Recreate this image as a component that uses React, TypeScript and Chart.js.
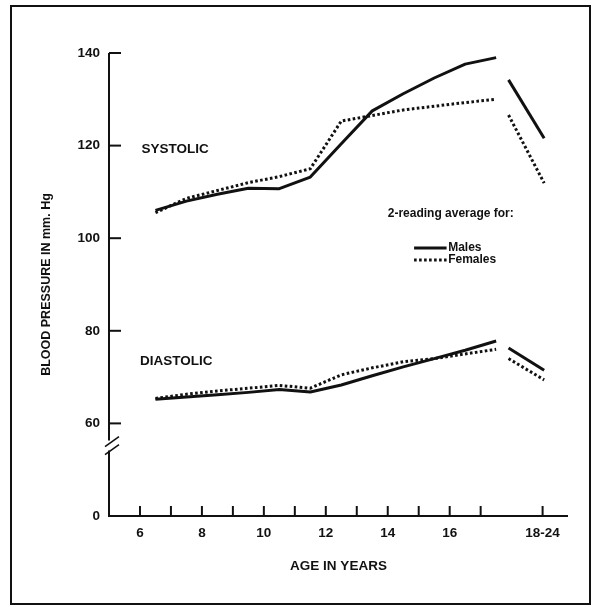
import React, { useEffect, useRef } from 'react';
import { Chart, registerables } from 'chart.js';

Chart.register(...registerables);

// Ages 6–17 plotted at mid-year
const AGES = [6.5, 7.5, 8.5, 9.5, 10.5, 11.5, 12.5, 13.5, 14.5, 15.5, 16.5, 17.5];
const MALE_SYSTOLIC = [106.0, 108.0, 109.5, 110.8, 110.7, 113.2, 120.4, 127.5, 131.2, 134.6, 137.6, 139.0];
const FEMALE_SYSTOLIC = [105.5, 108.6, 110.3, 112.0, 113.3, 115.0, 125.3, 126.5, 127.7, 128.5, 129.3, 130.0];
const MALE_DIASTOLIC = [65.2, 65.7, 66.2, 66.7, 67.3, 66.8, 68.3, 70.3, 72.2, 74.0, 75.8, 77.8];
const FEMALE_DIASTOLIC = [65.4, 66.3, 67.0, 67.6, 68.2, 67.6, 70.5, 72.0, 73.3, 74.0, 75.0, 76.0];

// 18-24 segment
const ADULT_AGES = [17.9, 19.05];
const ADULT_MALE_SYSTOLIC = [134.2, 121.6];
const ADULT_FEMALE_SYSTOLIC = [126.6, 111.9];
const ADULT_MALE_DIASTOLIC = [76.3, 71.5];
const ADULT_FEMALE_DIASTOLIC = [74.0, 69.4];

// Axes
const X_MIN = 5;
const X_MAX = 19.82;
const X_TICKS = [6, 7, 8, 9, 10, 11, 12, 13, 14, 15, 16, 17, 19];
const X_TICK_LABELS = ['6', '', '8', '', '10', '', '12', '', '14', '', '16', '', '18-24'];
const Y_MIN = 40; // drawn as "0" below the axis break
const Y_MAX = 140;
const Y_TICKS = [40, 60, 80, 100, 120, 140];
const Y_TICK_LABELS = ['0', '60', '80', '100', '120', '140'];
const Y_BREAK = 55.2;

const X_TITLE = 'AGE IN YEARS';
const Y_TITLE = 'BLOOD PRESSURE IN mm. Hg';
const LEGEND_TITLE = '2-reading average for:';
const SERIES_NAMES = ['Males', 'Females'];

const INK = '#111111';
const FONT = "'Liberation Sans', Arial, Helvetica, sans-serif";

const pts = (xs: number[], ys: number[]) => xs.map((x, i) => ({ x, y: ys[i] }));

const solid = (data: { x: number; y: number }[]) => ({
  data,
  borderColor: INK,
  borderWidth: 3,
  pointRadius: 0,
  tension: 0,
  fill: false,
  borderJoinStyle: 'round' as const,
});
const dotted = (data: { x: number; y: number }[]) => ({
  data,
  borderColor: INK,
  borderWidth: 3,
  borderDash: [2.6, 2.4],
  borderCapStyle: 'butt' as const,
  pointRadius: 0,
  tension: 0,
  fill: false,
});

const decor = {
  id: 'decor',
  afterDraw(chart: any) {
    const { ctx, chartArea, scales } = chart;
    const x = scales.x;
    const y = scales.y;
    const line = (x1: number, y1: number, x2: number, y2: number) => {
      ctx.beginPath();
      ctx.moveTo(x1, y1);
      ctx.lineTo(x2, y2);
      ctx.stroke();
    };
    ctx.save();
    ctx.strokeStyle = INK;
    ctx.fillStyle = INK;
    ctx.lineWidth = 2;
    ctx.lineCap = 'butt';
    const x0 = chartArea.left;
    const yb = chartArea.bottom;
    const brk = y.getPixelForValue(Y_BREAK);
    // axis lines with break
    line(x0, chartArea.top, x0, brk - 5);
    line(x0, brk + 5, x0, yb + 1);
    line(x0 - 1, yb, chartArea.right, yb);
    // break slashes
    ctx.lineWidth = 1.6;
    line(x0 - 4, brk + 1, x0 + 10, brk - 9);
    line(x0 - 4, brk + 9, x0 + 10, brk - 1);
    // y tick marks (inward)
    ctx.lineWidth = 2;
    Y_TICKS.forEach((v, i) => {
      if (i === 0) return;
      const p = y.getPixelForValue(v);
      line(x0, p, x0 + 12, p);
    });
    // x tick marks (inward)
    X_TICKS.forEach((v) => {
      const p = x.getPixelForValue(v);
      line(p, yb, p, yb - 10);
    });

    // series labels
    ctx.textBaseline = 'middle';
    ctx.textAlign = 'left';
    ctx.font = `bold 13.5px ${FONT}`;
    ctx.fillText('SYSTOLIC', x.getPixelForValue(6.05), y.getPixelForValue(119.3));
    ctx.fillText('DIASTOLIC', x.getPixelForValue(6.0), y.getPixelForValue(73.5));

    // legend
    ctx.font = `bold 12px ${FONT}`;
    ctx.fillText(LEGEND_TITLE, x.getPixelForValue(14.0), y.getPixelForValue(105.4));
    const lx1 = x.getPixelForValue(14.85);
    const lx2 = x.getPixelForValue(15.9);
    const ym = y.getPixelForValue(97.9);
    const yf = y.getPixelForValue(95.3);
    ctx.lineWidth = 3;
    line(lx1, ym, lx2, ym);
    ctx.setLineDash([2.6, 2.4]);
    line(lx1, yf, lx2, yf);
    ctx.setLineDash([]);
    ctx.fillText(SERIES_NAMES[0], x.getPixelForValue(15.95), ym);
    ctx.fillText(SERIES_NAMES[1], x.getPixelForValue(15.95), yf);

    // outer frame
    ctx.lineWidth = 2;
    ctx.strokeRect(11, 6, 579, 598);
    ctx.restore();
  },
};

export default function App() {
  const ref = useRef<HTMLCanvasElement | null>(null);
  useEffect(() => {
    if (!ref.current) return;
    const chart = new Chart(ref.current, {
      type: 'line',
      data: {
        datasets: [
          solid(pts(AGES, MALE_SYSTOLIC)),
          dotted(pts(AGES, FEMALE_SYSTOLIC)),
          solid(pts(AGES, MALE_DIASTOLIC)),
          dotted(pts(AGES, FEMALE_DIASTOLIC)),
          solid(pts(ADULT_AGES, ADULT_MALE_SYSTOLIC)),
          dotted(pts(ADULT_AGES, ADULT_FEMALE_SYSTOLIC)),
          solid(pts(ADULT_AGES, ADULT_MALE_DIASTOLIC)),
          dotted(pts(ADULT_AGES, ADULT_FEMALE_DIASTOLIC)),
        ] as any,
      },
      options: {
        animation: false,
        responsive: false,
        events: [],
        layout: { padding: { top: 53, right: 25, bottom: 0, left: 0 } },
        plugins: {
          legend: { display: false },
          tooltip: { enabled: false },
        },
        scales: {
          x: {
            type: 'linear',
            min: X_MIN,
            max: X_MAX,
            grid: { display: false, drawTicks: false },
            border: { display: false },
            afterBuildTicks: (axis: any) => {
              axis.ticks = X_TICKS.map((v) => ({ value: v }));
            },
            afterFit: (axis: any) => {
              axis.height = 91;
            },
            ticks: {
              autoSkip: false,
              maxRotation: 0,
              padding: 9,
              color: INK,
              font: { family: FONT, size: 13.5, weight: 'bold' },
              callback: (v: any) => {
                const i = X_TICKS.indexOf(Number(v));
                return i >= 0 ? X_TICK_LABELS[i] : '';
              },
            },
            title: {
              display: true,
              text: X_TITLE,
              color: INK,
              font: { family: FONT, size: 13.5, weight: 'bold' },
              padding: { top: 0, bottom: 33 },
            },
          },
          y: {
            type: 'linear',
            min: Y_MIN,
            max: Y_MAX,
            grid: { display: false, drawTicks: false },
            border: { display: false },
            afterBuildTicks: (axis: any) => {
              axis.ticks = Y_TICKS.map((v) => ({ value: v }));
            },
            afterFit: (axis: any) => {
              axis.width = 109;
            },
            ticks: {
              autoSkip: false,
              padding: 9,
              color: INK,
              font: { family: FONT, size: 13.5, weight: 'bold' },
              callback: (v: any) => {
                const i = Y_TICKS.indexOf(Number(v));
                return i >= 0 ? Y_TICK_LABELS[i] : '';
              },
            },
            title: {
              display: true,
              text: Y_TITLE,
              color: INK,
              font: { family: FONT, size: 12.5, weight: 'bold' },
              padding: { top: 39, bottom: 0 },
            },
          },
        },
      },
      plugins: [decor],
    } as any);
    return () => chart.destroy();
  }, []);
  return (
    <div style={{ position: 'absolute', left: 0, top: 0, width: 593, height: 607, background: '#fff' }}>
      <canvas ref={ref} width={593} height={607} style={{ display: 'block', width: 593, height: 607 }} />
    </div>
  );
}
